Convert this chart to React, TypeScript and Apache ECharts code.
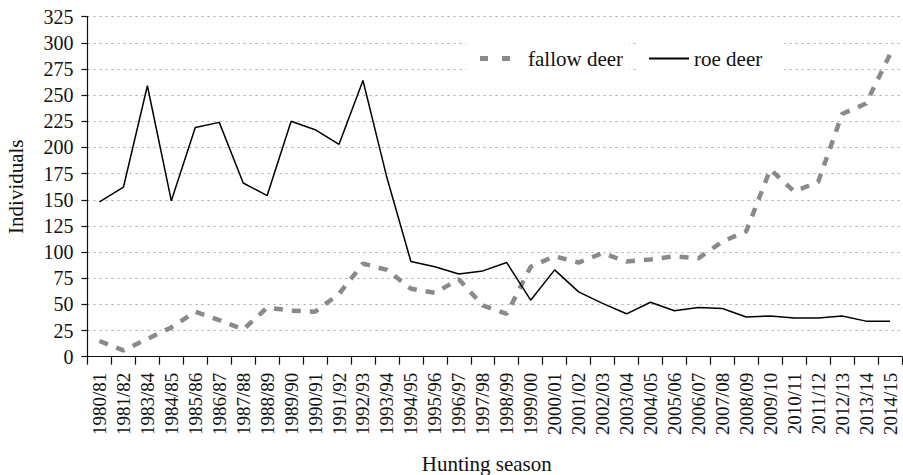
import React, { useEffect, useRef } from "react";
import * as echarts from "echarts";

const seasons = [
  "1980/81", "1981/82", "1983/84", "1984/85", "1985/86", "1986/87", "1987/88",
  "1988/89", "1989/90", "1990/91", "1991/92", "1992/93", "1993/94", "1994/95",
  "1995/96", "1996/97", "1997/98", "1998/99", "1999/00", "2000/01", "2001/02",
  "2002/03", "2003/04", "2004/05", "2005/06", "2006/07", "2007/08", "2008/09",
  "2009/10", "2010/11", "2011/12", "2012/13", "2013/14", "2014/15",
];

const fallowDeer = [
  15, 6, 17, 28, 43, 35, 26, 47, 44, 43, 60, 89, 83, 65, 61, 74, 49, 41, 86,
  96, 90, 99, 91, 93, 96, 94, 110, 120, 179, 158, 167, 232, 242, 289,
];

const roeDeer = [
  148, 162, 259, 149, 219, 224, 166, 154, 225, 217, 203, 264, 171, 91, 86, 79,
  82, 90, 54, 83, 62, 51, 41, 52, 44, 47, 46, 38, 39, 37, 37, 39, 34, 34,
];

const FONT = "Liberation Serif";

export default function App() {
  const ref = useRef<HTMLDivElement>(null);
  useEffect(() => {
    if (!ref.current) return;
    const chart = echarts.init(ref.current, undefined, { renderer: "svg" });
    chart.setOption({
      animation: false,
      backgroundColor: "#ffffff",
      textStyle: { fontFamily: FONT, color: "#111" },
      grid: {
        left: 87.5,
        right: 1,
        top: 16.7,
        bottom: 118.3,
        containLabel: false,
        outerBoundsMode: "none",
      },
      legend: [
        {
          data: ["fallow deer"],
          left: 466,
          top: 40,
          orient: "horizontal",
          icon: "path://M0,0h8v5h-8zM22,0h8v5h-8z",
          itemWidth: 30,
          itemHeight: 5,
          backgroundColor: "#ffffff",
          padding: [8, 6, 8, 14],
          itemStyle: { color: "#8a8a8a", opacity: 1, borderWidth: 0 },
          textStyle: { fontFamily: FONT, fontSize: 21, color: "#111", padding: [0, 0, 0, 13] },
        },
        {
          data: ["roe deer"],
          left: 636,
          top: 40,
          itemWidth: 40,
          itemHeight: 14,
          backgroundColor: "#ffffff",
          padding: [8, 22, 8, 12],
          itemStyle: { opacity: 0 },
          textStyle: { fontFamily: FONT, fontSize: 21, color: "#111" },
        },
      ],
      xAxis: {
        type: "category",
        data: seasons,
        boundaryGap: true,
        name: "Hunting season",
        nameLocation: "middle",
        nameGap: 97,
        nameTextStyle: { fontFamily: FONT, fontSize: 21, color: "#111", padding: [0, 16, 0, 0] },
        axisLine: { show: true, lineStyle: { color: "#111", width: 1.2 } },
        axisTick: { show: true, alignWithLabel: false, interval: 0, length: 8, lineStyle: { color: "#111", width: 1.2 } },
        axisLabel: { interval: 0, rotate: 90, margin: 16, fontFamily: FONT, fontSize: 19, color: "#111" },
        splitLine: { show: false },
      },
      yAxis: {
        type: "value",
        min: 0,
        max: 325,
        interval: 25,
        name: "Individuals",
        nameLocation: "middle",
        nameGap: 61,
        nameTextStyle: { fontFamily: FONT, fontSize: 21, color: "#111" },
        axisLine: { show: true, lineStyle: { color: "#111", width: 1.2 } },
        axisTick: { show: true, inside: false, length: 6, lineStyle: { color: "#111", width: 1.2 } },
        axisLabel: { margin: 14, fontFamily: FONT, fontSize: 20, color: "#111" },
        splitLine: { show: true, lineStyle: { type: [2, 4], color: "#a8a8a8", width: 1.2 } },
      },
      series: [
        {
          name: "fallow deer",
          type: "line",
          data: fallowDeer,
          symbol: "none",
          lineStyle: { type: [9, 9], width: 4.5, color: "#8a8a8a" },
          itemStyle: { color: "#8a8a8a" },
          z: 2,
        },
        {
          name: "roe deer",
          type: "line",
          data: roeDeer,
          symbol: "none",
          lineStyle: { type: "solid", width: 1.5, color: "#000" },
          itemStyle: { color: "#000" },
          z: 3,
        },
      ],
    });
    return () => chart.dispose();
  }, []);
  return <div ref={ref} style={{ width: 903, height: 475, position: "absolute", left: 0, top: 0 }} />;
}
